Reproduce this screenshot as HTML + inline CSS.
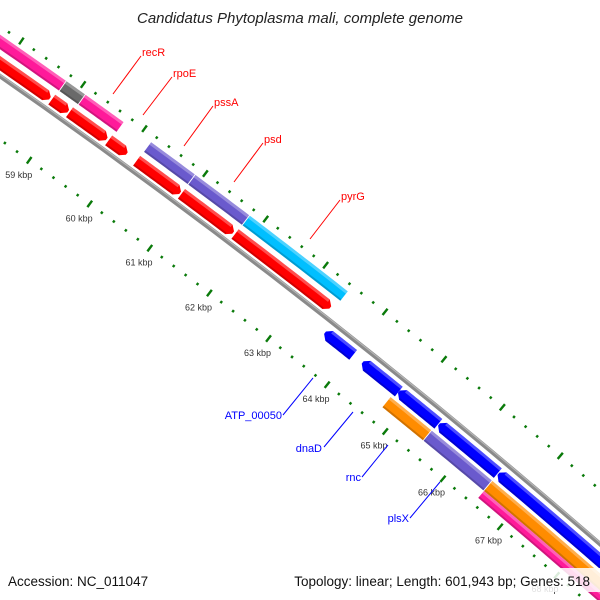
<!DOCTYPE html>
<html><head><meta charset="utf-8"><style>
html,body{margin:0;padding:0;background:#fff;width:600px;height:600px;overflow:hidden;}
svg{display:block;font-family:"Liberation Sans",sans-serif;overflow:hidden;}
</style></head><body>
<svg id="map" width="600" height="600" viewBox="0 0 600 600" xmlns="http://www.w3.org/2000/svg">
<defs><clipPath id="frame"><rect width="600" height="600"/></clipPath></defs>
<rect width="600" height="600" fill="#fff"/>
<g clip-path="url(#frame)">
<g id="ticks"></g>
<g id="backbone"></g>
<g id="genes"></g>
</g>
<g id="labels">
  <line x1="113" y1="94" x2="141" y2="56" stroke="#f00" stroke-width="1"/>
  <text x="142" y="56" font-size="11" fill="#f00">recR</text>
  <line x1="143" y1="115" x2="172" y2="77" stroke="#f00" stroke-width="1"/>
  <text x="173" y="77" font-size="11" fill="#f00">rpoE</text>
  <line x1="184" y1="146" x2="213" y2="106" stroke="#f00" stroke-width="1"/>
  <text x="214" y="106" font-size="11" fill="#f00">pssA</text>
  <line x1="234" y1="182" x2="263" y2="143" stroke="#f00" stroke-width="1"/>
  <text x="264" y="143" font-size="11" fill="#f00">psd</text>
  <line x1="310" y1="239" x2="340" y2="200" stroke="#f00" stroke-width="1"/>
  <text x="341" y="200" font-size="11" fill="#f00">pyrG</text>
  <line x1="283" y1="415" x2="313" y2="378" stroke="#00f" stroke-width="1"/>
  <text x="282" y="419" font-size="11" fill="#00f" text-anchor="end">ATP_00050</text>
  <line x1="324" y1="447" x2="353" y2="412" stroke="#00f" stroke-width="1"/>
  <text x="322" y="452" font-size="11" fill="#00f" text-anchor="end">dnaD</text>
  <line x1="362" y1="477" x2="388" y2="445" stroke="#00f" stroke-width="1"/>
  <text x="361" y="481" font-size="11" fill="#00f" text-anchor="end">rnc</text>
  <line x1="410" y1="518" x2="440" y2="482" stroke="#00f" stroke-width="1"/>
  <text x="409" y="522" font-size="11" fill="#00f" text-anchor="end">plsX</text>
</g>
<text x="300" y="23" font-size="15" font-style="italic" fill="#222" text-anchor="middle">Candidatus Phytoplasma mali, complete genome</text>
<rect x="290" y="568" width="310" height="24" fill="#fff" fill-opacity="0.85"/>
<text x="8" y="586" font-size="13.5" fill="#111">Accession: NC_011047</text>
<text x="590" y="586" font-size="13.5" fill="#111" text-anchor="end">Topology: linear; Length: 601,943 bp; Genes: 518</text>
</svg>
<script>
// gene data (bp)
const geneStart = [56000, 58770, 59060, 59700, 60160, 60900, 61790, 56000, 58790, 59100, 60170, 60900, 61800, 63540, 64180, 64800, 65490, 66520, 64760, 65470, 66520, 66520];
const geneEnd   = [58752, 59050, 59680, 60010, 60890, 61770, 63400, 58790, 59100, 59730, 60900, 61800, 63450, 64030, 64810, 65490, 66520, 70000, 65470, 66520, 70000, 70000];
const geneStrand = [1,1,1,1,1,1,1, 0,0,0,0,0,0, -1,-1,-1,-1,-1, 0,0,0,0];
const geneRow   = [0,0,0,0,0,0,0, 1,1,1,1,1,1, 2,2,2,2,2, 3,3,3,4];
const geneColor = ["#ff0000","#ff0000","#ff0000","#ff0000","#ff0000","#ff0000","#ff0000",
  "#ff1a9a","#6a6a6a","#ff1a9a","#6a5acd","#6a5acd","#00bfff",
  "#0000ff","#0000ff","#0000ff","#0000ff","#0000ff",
  "#ff8c00","#6a5acd","#ff8c00","#ff1a9a"];
const geneName = ["gene-a","gene-b","gene-c","rpoE","pssA","psd","pyrG","gene-h","gene-i","recR","gene-k","gene-l","gene-m",
  "ATP_00050","dnaD","gene-p","gene-q","gene-r","rnc","plsX","gene-u","gene-v"];
const tickStart = 55000, tickEnd = 70000, minorStep = 200, majorStep = 1000;

// geometry
const CX = -4079, CY = 5924, R = 7130;
const rowCenter = [10.5, 28, -12.5, -28.5, -39.5];
const rowHalf = [6, 6, 6.2, 6.5, 4.5];
const NS = "http://www.w3.org/2000/svg";
function ang(bp){ return (-54.52 + (bp - 59000) * 0.000604) * Math.PI / 180; }
function pt(bp, r){ const a = ang(bp); return [CX + r*Math.cos(a), CY + r*Math.sin(a)]; }
function arcPts(b1, b2, r){ const out=[]; const n=16; for(let i=0;i<=n;i++){ out.push(pt(b1+(b2-b1)*i/n, r)); } return out; }
function poly(points, fill, parent, name){
  const p = document.createElementNS(NS, "polygon");
  p.setAttribute("points", points.map(q=>q[0].toFixed(2)+","+q[1].toFixed(2)).join(" "));
  p.setAttribute("fill", fill);
  
  
  parent.appendChild(p);
  return p;
}

// backbone
(function(){
  const g = document.getElementById("backbone");
  const pts = arcPts(55000, 70000, R).map(q=>q[0].toFixed(1)+","+q[1].toFixed(1)).join(" ");
  const l = document.createElementNS(NS, "polyline");
  l.setAttribute("points", pts); l.setAttribute("fill","none");
  l.setAttribute("stroke","#8a8a8a"); l.setAttribute("stroke-width","4.5");
  
  
  g.appendChild(l);
  const h = document.createElementNS(NS, "polyline");
  h.setAttribute("points", arcPts(55000, 70000, R+1.2).map(q=>q[0].toFixed(1)+","+q[1].toFixed(1)).join(" "));
  h.setAttribute("fill","none"); h.setAttribute("stroke","#b5b5b5"); h.setAttribute("stroke-width","1.2");
  
  
  g.appendChild(h);
})();

// ticks
(function(){
  const g = document.getElementById("ticks");
  for(let bp = tickStart; bp <= tickEnd; bp += minorStep){
    const major = bp % majorStep === 0;
    [R-52, R+41].forEach(function(rc){
      const len = major ? 4 : 1.3;
      const a = pt(bp, rc-len), b = pt(bp, rc+len);
      const l = document.createElementNS(NS, "line");
      l.setAttribute("x1", a[0]); l.setAttribute("y1", a[1]);
      l.setAttribute("x2", b[0]); l.setAttribute("y2", b[1]);
      l.setAttribute("stroke", "#0a7a0a"); l.setAttribute("stroke-width", 2.4);
      
      
      g.appendChild(l);
    });
    if(major){
      const c = pt(bp, R-70);
      const t = document.createElementNS(NS, "text");
      t.setAttribute("x", c[0]); t.setAttribute("y", c[1]+3);
      t.setAttribute("font-size", "9"); t.setAttribute("fill", "#333");
      t.setAttribute("text-anchor", "middle");
      t.textContent = (bp/1000) + " kbp";
      
      
      g.appendChild(t);
    }
  }
})();

// genes
(function(){
  const g = document.getElementById("genes");
  const ARROW = 70;
  for(let i=0;i<geneStart.length;i++){
    const s = geneStart[i], e = geneEnd[i], rc = R + rowCenter[geneRow[i]], h = rowHalf[geneRow[i]];
    const gap = 12;
    const s2 = s + gap/2, e2 = e - gap/2;
    let pts, bs = s2, be = e2;
    if(geneStrand[i] === 1){
      be = Math.max(s2, e2 - ARROW);
      pts = arcPts(s2, be, rc+h).concat([pt(e2, rc+1.5), pt(e2, rc-1.5)]).concat(arcPts(be, s2, rc-h));
    } else if(geneStrand[i] === -1){
      bs = Math.min(e2, s2 + ARROW);
      pts = [pt(s2, rc-1.5), pt(s2, rc+1.5)].concat(arcPts(bs, e2, rc+h)).concat(arcPts(e2, bs, rc-h));
    } else {
      pts = arcPts(s2, e2, rc+h).concat(arcPts(e2, s2, rc-h));
    }
    const grp = document.createElementNS(NS, "g");
    
    
    g.appendChild(grp);
    poly(pts, geneColor[i], grp, 'gene-body');
    const hl = arcPts(bs, be, rc+h).concat(arcPts(be, bs, rc+h-3));
    poly(hl, "rgba(255,255,255,0.3)", grp, 'gene-highlight');
    const sh = arcPts(bs, be, rc-h+2).concat(arcPts(be, bs, rc-h));
    poly(sh, "rgba(0,0,0,0.18)", grp, 'gene-shadow');
  }
})();
</script>
</body></html>
